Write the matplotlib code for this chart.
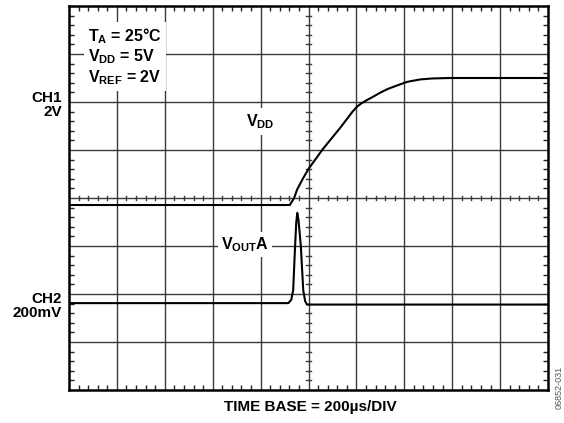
import numpy as np
import matplotlib
matplotlib.use("Agg")
import matplotlib.pyplot as plt

plt.rcParams['font.family'] = ['Liberation Sans', 'DejaVu Sans']
plt.rcParams['mathtext.fontset'] = 'custom'
plt.rcParams['mathtext.rm'] = 'Liberation Sans'
plt.rcParams['mathtext.bf'] = 'Liberation Sans:bold'
plt.rcParams['mathtext.it'] = 'Liberation Sans:italic'

# Data in screen divisions (x: 0..10 div, y: 0..8 div)
vdd_t = [0.0, 4.61, 4.70, 4.76, 4.88, 5.01, 5.30, 5.66, 5.92, 6.01, 6.10, 6.22, 6.35, 6.49,
         6.65, 6.81, 7.06, 7.33, 7.58, 7.95, 10.0]
vdd_v = [3.854, 3.854, 4.00, 4.17, 4.40, 4.62, 5.02, 5.46, 5.80, 5.90, 5.97, 6.04, 6.11, 6.19,
         6.27, 6.33, 6.42, 6.47, 6.49, 6.50, 6.50]

vout_t = [0.0, 4.58, 4.64, 4.68, 4.72, 4.745, 4.766, 4.79, 4.84, 4.89, 4.93, 4.97, 10.0]
vout_v = [1.81, 1.81, 1.88, 2.08, 3.00, 3.50, 3.69, 3.55, 3.00, 2.08, 1.85, 1.78, 1.78]

n_xdiv = 10
n_ydiv = 8

fig = plt.figure(figsize=(5.64, 4.23), dpi=100)
ax = fig.add_axes([69/564, 33/423, 479/564, 384/423])
ax.set_xlim(0, n_xdiv)
ax.set_ylim(0, n_ydiv)

grid_c = '#3a3a3a'
for k in range(1, n_xdiv):
    ax.axvline(k, color=grid_c, lw=1.0, zorder=1)
for k in range(1, n_ydiv):
    ax.axhline(k, color=grid_c, lw=1.0, zorder=1)

# center axis ticks
cx, cy = n_xdiv / 2, n_ydiv / 2
tl_x = 2.2 / 47.9
tl_y = 2.2 / 48
for t in np.arange(0.2, n_xdiv, 0.2):
    if abs(t - round(t)) > 1e-6:
        ax.plot([t, t], [cy - tl_y, cy + tl_y], color=grid_c, lw=1.0, zorder=1)
for t in np.arange(0.2, n_ydiv, 0.2):
    if abs(t - round(t)) > 1e-6:
        ax.plot([cx - tl_x, cx + tl_x], [t, t], color=grid_c, lw=1.0, zorder=1)

# border minor ticks
xt = [t for t in np.arange(0.2, n_xdiv, 0.2) if abs(t - round(t)) > 1e-6]
yt = [t for t in np.arange(0.2, n_ydiv, 0.2) if abs(t - round(t)) > 1e-6]
ax.set_xticks([])
ax.set_yticks([])
ax.set_xticks(xt, minor=True)
ax.set_yticks(yt, minor=True)
ax.tick_params(which='minor', direction='in', length=3.5, width=1.0, color='#222222',
               top=True, right=True, labelbottom=False, labelleft=False)
for s in ax.spines.values():
    s.set_linewidth(1.8)
    s.set_color('black')
    s.set_zorder(5)

ax.plot(vdd_t, vdd_v, color='black', lw=1.5, zorder=4, solid_joinstyle='round')
ax.plot(vout_t, vout_v, color='black', lw=1.5, zorder=4, solid_joinstyle='round')

bb = dict(boxstyle='square,pad=0.25', fc='white', ec='none')
ax.text(0.40, 7.58,
        "$\\mathbf{T}_{\\mathbf{A}}$ = 25°C\n$\\mathbf{V}_{\\mathbf{DD}}$ = 5V\n$\\mathbf{V}_{\\mathbf{REF}}$ = 2V",
        ha='left', va='top', fontsize=11.5, fontweight='bold', linespacing=1.12,
        bbox=bb, zorder=3)
ax.text(3.70, 5.49, "$\\mathbf{V}_{\\mathbf{DD}}$", ha='left', va='baseline',
        fontsize=11.5, fontweight='bold', bbox=bb, zorder=3)
ax.text(3.17, 2.94, "$\\mathbf{V}_{\\mathbf{OUT}}$A", ha='left', va='baseline',
        fontsize=11.5, fontweight='bold', bbox=dict(boxstyle='square,pad=0.2', fc='white', ec='none'), zorder=3)

ax.text(-0.146, 5.94, "CH1\n2V", ha='right', va='center', multialignment='right',
        fontsize=11, fontweight='bold', linespacing=1.0, clip_on=False)
ax.text(-0.146, 1.74, "CH2\n200mV", ha='right', va='center', multialignment='right',
        fontsize=11, fontweight='bold', linespacing=1.0, clip_on=False)

ax.text(5.03, -0.354, "TIME BASE = 200µs/DIV", ha='center', va='center',
        fontsize=11, fontweight='bold', clip_on=False)

fig.text(559/564, 1 - 387/423, "06852-031", rotation=90, ha='center', va='center',
         fontsize=6.5, color='#555555')

fig.savefig("out.png", dpi=100)
